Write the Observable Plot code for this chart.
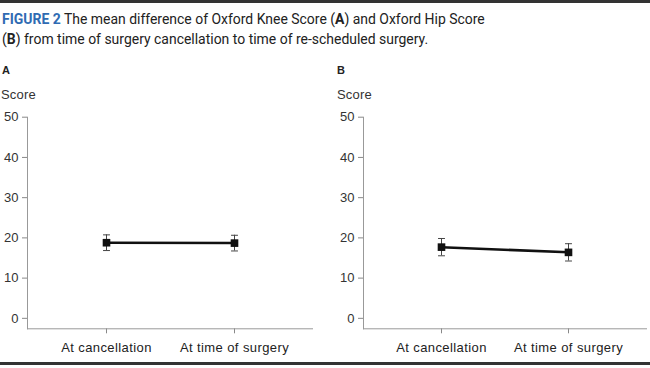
<!DOCTYPE html>
<html>
<head>
<meta charset="utf-8">
<script src="https://cdn.jsdelivr.net/npm/d3@7"></script>
<script src="https://cdn.jsdelivr.net/npm/@observablehq/plot@0.6"></script>
<style>
  html, body { margin: 0; padding: 0; background: #fff; }
  body { width: 650px; height: 368px; position: relative; overflow: hidden; font-family: "Liberation Sans", Arial, sans-serif; color: #222; }
  .rule { position: absolute; left: 0; width: 650px; background: #333; }
  #title { position: absolute; left: 2px; top: 9px; font-size: 15.5px; line-height: 20px; color: #222; font-family: Roboto, "Liberation Sans", sans-serif; transform: scaleX(0.9); transform-origin: 0 0; white-space: nowrap; }
  #title .fig { color: #2f6bb3; font-weight: bold; }
  .panel-label { position: absolute; font-weight: bold; font-size: 11px; color: #222; }
  .score { position: absolute; font-size: 13px; color: #333; letter-spacing: 0.2px; }
  .chart { position: absolute; top: 100px; }
  .chart svg g[aria-label="x-axis tick label"] text { letter-spacing: 0.4px; }
</style>
</head>
<body>
<div class="rule" style="top:0;height:3px"></div>
<div id="title"><span class="fig">FIGURE 2</span> The mean difference of Oxford Knee Score (<b>A</b>) and Oxford Hip Score<br>(<b>B</b>) from time of surgery cancellation to time of re-scheduled surgery.</div>
<div class="panel-label" style="left:2px;top:64px">A</div>
<div class="panel-label" style="left:337px;top:64px">B</div>
<div class="score" style="left:1px;top:87px">Score</div>
<div class="score" style="left:337px;top:87px">Score</div>
<div id="chartA" class="chart" style="left:0px"></div>
<div id="chartB" class="chart" style="left:330px"></div>
<div class="rule" style="top:362px;height:3px"></div>
<script>
const timepoints = ["At cancellation", "At time of surgery"];
const kneeMean = [18.8, 18.7];
const kneeErr = [1.95, 1.95];
const hipMean = [17.7, 16.4];
const hipErr = [2.15, 2.15];
const yTicks = [0, 10, 20, 30, 40, 50];

function build(means, errs) {
  return timepoints.map((t, i) => ({ t, mean: means[i], lo: means[i] - errs[i], hi: means[i] + errs[i] }));
}

// horizontal cap symbol for error bars
const capSymbol = {
  draw(context, size) {
    const w = Math.sqrt(size) / 2;
    context.moveTo(-w, 0);
    context.lineTo(w, 0);
  }
};

function panel(data, width, marginLeft, marginRight) {
  return Plot.plot({
    width,
    height: 262,
    marginTop: 16.7,
    marginBottom: 33.7,
    marginLeft,
    marginRight,
    style: { fontFamily: "Liberation Sans, Arial, sans-serif", fontSize: "13px", color: "#333", background: "transparent" },
    x: { type: "point", domain: timepoints, padding: 0.61, label: null },
    y: { domain: [-2.6, 50], label: null },
    marks: [
      Plot.axisY({ ticks: yTicks, tickSize: 5, tickPadding: 4, stroke: "#888", fill: "#333", label: null }),
      Plot.axisX({ tickSize: 5, tickPadding: 9, stroke: "#888", fill: "#222", label: null }),
      Plot.frame({ anchor: "left", stroke: "#999" }),
      Plot.frame({ anchor: "bottom", stroke: "#999" }),
      Plot.ruleX(data, { x: "t", y1: "lo", y2: "hi", stroke: "#444", strokeWidth: 1 }),
      Plot.dot(data, { x: "t", y: "lo", symbol: capSymbol, r: 3.9, stroke: "#444", strokeWidth: 1 }),
      Plot.dot(data, { x: "t", y: "hi", symbol: capSymbol, r: 3.9, stroke: "#444", strokeWidth: 1 }),
      Plot.line(data, { x: "t", y: "mean", stroke: "#111", strokeWidth: 2.5 }),
      Plot.dot(data, { x: "t", y: "mean", symbol: "square", r: 4.3, fill: "#111", stroke: "none" })
    ]
  });
}

document.getElementById("chartA").appendChild(panel(build(kneeMean, kneeErr), 325, 27, 13));
document.getElementById("chartB").appendChild(panel(build(hipMean, hipErr), 320, 33, 4));
</script>
</body>
</html>
